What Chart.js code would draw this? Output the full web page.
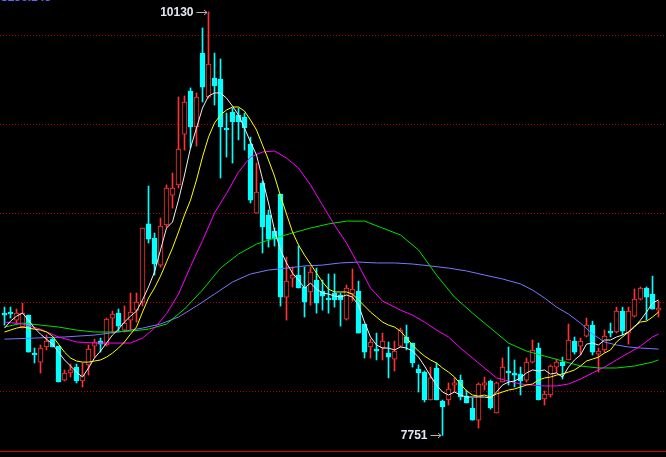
<!DOCTYPE html>
<html>
<head>
<meta charset="utf-8">
<script src="https://cdn.jsdelivr.net/npm/chart.js@4.4.1/dist/chart.umd.min.js"></script>
<style>
html, body { margin: 0; padding: 0; background: #000; overflow: hidden; }
#wrap { width: 666px; height: 457px; }
</style>
</head>
<body>
<div id="wrap"><canvas id="kline" width="666" height="457"></canvas></div>
<script>
// daily candles (index 0 = first full candle on the left)
var opens = [
  8438, 8444, 8399, 8360, 8427, 8214, 8163, 8248, 8292, 8253,
  8062, 8102, 8135, 8057, 8147, 8253, 8281, 8259, 8410, 8438,
  8343, 8399, 8455, 8500, 8939, 8860, 8708, 8933, 9101, 9158,
  9444, 9686, 9484, 9899, 9652, 9759, 9753, 9478, 9568, 9551,
  9540, 9388, 9000, 9169, 8989, 8899, 9107, 8528, 8635, 8652,
  8585, 8557, 8624, 8562, 8523, 8551, 8540, 8404, 8545, 8562,
  8377, 8248, 8236, 8242, 8214, 8180, 8253, 8304, 8270, 8124,
  8107, 7950, 8130, 7944, 7950, 8034, 8062, 7972, 7905, 7837,
  8034, 8057, 7877, 8051, 8113, 8102, 8096, 8062, 8163, 8242,
  7956, 7978, 8135, 8163, 8175, 8281, 8253, 8309, 8371, 8208,
  8231, 8337, 8332, 8449, 8326, 8421, 8517, 8579, 8545, 8455
];
var closes = [
  8427, 8433, 8438, 8438, 8219, 8203, 8242, 8281, 8248, 8051,
  8102, 8119, 8057, 8090, 8236, 8276, 8264, 8404, 8433, 8365,
  8382, 8444, 8500, 8916, 8854, 8714, 8927, 9141, 9141, 9360,
  9624, 9484, 9652, 9708, 9837, 9714, 9484, 9467, 9512, 9512,
  9478, 9073, 9118, 8922, 8854, 8854, 8528, 8618, 8652, 8579,
  8500, 8669, 8494, 8534, 8512, 8512, 8512, 8579, 8573, 8326,
  8219, 8276, 8225, 8281, 8191, 8225, 8343, 8270, 8158, 8102,
  7950, 8074, 7950, 7911, 8012, 8046, 7967, 7933, 7837, 8040,
  8046, 7905, 8046, 8135, 8102, 8090, 8057, 8163, 8231, 7950,
  7984, 8141, 8163, 8141, 8287, 8219, 8281, 8371, 8219, 8225,
  8309, 8326, 8449, 8337, 8449, 8517, 8579, 8528, 8461, 8461
];
var highs = [
  8472, 8472, 8461, 8494, 8427, 8242, 8259, 8315, 8298, 8253,
  8119, 8152, 8152, 8158, 8259, 8292, 8298, 8410, 8449, 8461,
  8478, 8551, 8551, 8916, 9152, 8888, 8972, 9158, 9225, 9652,
  9658, 9703, 9675, 10040, 10130, 9899, 9866, 9562, 9590, 9590,
  9562, 9427, 9281, 9180, 9017, 8916, 9107, 8753, 8697, 8815,
  8697, 8697, 8691, 8624, 8658, 8658, 8551, 8596, 8686, 8618,
  8377, 8292, 8326, 8326, 8276, 8281, 8354, 8371, 8270, 8147,
  8113, 8135, 8158, 7950, 8046, 8074, 8090, 8006, 7961, 8046,
  8079, 8062, 8051, 8186, 8248, 8175, 8135, 8186, 8287, 8270,
  8001, 8147, 8180, 8191, 8377, 8304, 8298, 8410, 8393, 8242,
  8343, 8382, 8472, 8472, 8472, 8573, 8585, 8585, 8646, 8506
];
var lows = [
  8371, 8410, 8382, 8354, 8219, 8158, 8102, 8231, 8248, 8051,
  8057, 8079, 8046, 8023, 8090, 8191, 8219, 8253, 8326, 8337,
  8332, 8343, 8388, 8478, 8832, 8652, 8697, 8922, 9028, 9141,
  9354, 9366, 9377, 9624, 9646, 9607, 9197, 9315, 9281, 9411,
  9354, 9057, 9000, 8776, 8809, 8815, 8478, 8399, 8585, 8579,
  8416, 8483, 8438, 8455, 8438, 8472, 8365, 8399, 8506, 8326,
  8186, 8186, 8175, 8175, 8074, 8113, 8248, 8231, 8135, 7995,
  7939, 7950, 7950, 7751, 7922, 7995, 7950, 7933, 7837, 7792,
  8006, 7899, 7877, 8051, 8034, 8023, 7978, 8051, 8158, 7950,
  7922, 7967, 8102, 8068, 8175, 8208, 8203, 8304, 8203, 8107,
  8219, 8304, 8326, 8315, 8264, 8416, 8512, 8399, 8461, 8416
];

// moving average lines as drawn (white, yellow: every candle)
var ma5 = [
  8354, 8393, 8421, 8438, 8399, 8354, 8320, 8292, 8264, 8219,
  8175, 8141, 8107, 8079, 8130, 8186, 8225, 8270, 8315, 8348,
  8388, 8421, 8449, 8512, 8585, 8669, 8793, 8916, 8950, 9073,
  9214, 9366, 9478, 9590, 9658, 9675, 9675, 9646, 9601, 9551,
  9478, 9399, 9326, 9191, 9057, 8905, 8793, 8720, 8663, 8624,
  8579, 8607, 8573, 8551, 8545, 8534, 8528, 8540, 8528, 8483,
  8388, 8304, 8259, 8242, 8242, 8231, 8248, 8242, 8225, 8191,
  8141, 8085, 8034, 7995, 7978, 7995, 7978, 7967, 7967, 7967,
  7967, 7961, 7995, 8034, 8051, 8057, 8074, 8102, 8119, 8113,
  8119, 8096, 8102, 8079, 8135, 8175, 8203, 8264, 8270, 8259,
  8287, 8287, 8304, 8315, 8332, 8360, 8399, 8444, 8494, 8512
];
var ma10 = [
  8332, 8343, 8354, 8360, 8354, 8348, 8343, 8332, 8309, 8264,
  8219, 8186, 8169, 8163, 8163, 8169, 8175, 8191, 8214, 8242,
  8276, 8320, 8360, 8444, 8523, 8579, 8646, 8725, 8804, 8894,
  8989, 9073, 9186, 9315, 9427, 9506, 9551, 9579, 9596, 9596,
  9573, 9523, 9467, 9382, 9298, 9208, 9096, 8995, 8894, 8821,
  8764, 8714, 8663, 8613, 8573, 8557, 8557, 8557, 8545, 8512,
  8478, 8444, 8416, 8388, 8371, 8360, 8337, 8298, 8259, 8225,
  8197, 8175, 8158, 8130, 8107, 8079, 8040, 8001, 7978, 7972,
  7978, 7967, 7984, 7995, 8006, 8012, 8023, 8034, 8040, 8062,
  8074, 8079, 8090, 8096, 8107, 8119, 8141, 8169, 8180, 8191,
  8214, 8231, 8276, 8304, 8332, 8365, 8388, 8393, 8416, 8444
];
// slower lines, read at fewer candles
var ma20At = [0, 3, 6, 9, 12, 15, 18, 21, 23, 25, 27, 29, 31, 33, 35, 37, 39, 41, 43, 45,
  47, 49, 51, 53, 55, 57, 59, 61, 63, 64, 66, 68, 70, 72, 74, 76, 78, 80, 82, 84,
  86, 88, 90, 92, 94, 96, 98, 100, 102, 104, 106, 108, 109];
var ma20 = [8388, 8377, 8348, 8304, 8276, 8270, 8270, 8270, 8298, 8354, 8435, 8545, 8700, 8845, 9000, 9110, 9230, 9315, 9343, 9349,
  9309, 9253, 9158, 9045, 8933, 8832, 8708, 8579, 8506, 8489, 8455, 8427, 8388, 8343, 8304, 8242, 8186, 8130, 8074, 8057,
  8040, 8034, 8029, 8029, 8040, 8068, 8102, 8135, 8175, 8214, 8253, 8304, 8320];
var ma40At = [0, 3, 6, 9, 12, 15, 18, 21, 24, 27, 30, 33, 36, 39, 42, 45, 48, 51, 54, 57,
  60, 63, 66, 69, 72, 75, 78, 81, 84, 87, 90, 93, 96, 99, 102, 105, 108, 109];
var ma40 = [8360, 8382, 8371, 8360, 8343, 8332, 8332, 8337, 8348, 8377, 8461, 8568, 8691, 8770, 8826, 8860, 8888, 8916, 8939, 8955,
  8955, 8916, 8877, 8793, 8652, 8528, 8438, 8354, 8270, 8225, 8197, 8169, 8141, 8130, 8130, 8141, 8163, 8175];
var ma60At = [0, 5, 10, 15, 20, 23, 26, 29, 32, 35, 38, 41, 44, 47, 50, 53, 56, 59, 62, 65,
  68, 71, 74, 77, 80, 83, 86, 88, 90, 92, 94, 96, 98, 100, 102, 104, 106, 109];
var ma60 = [8292, 8298, 8304, 8315, 8337, 8354, 8377, 8416, 8478, 8545, 8613, 8658, 8680, 8691, 8703, 8708, 8720, 8725, 8720, 8720,
  8714, 8703, 8691, 8675, 8652, 8630, 8602, 8568, 8523, 8472, 8433, 8382, 8321, 8276, 8259, 8248, 8242, 8236];

var gridLevels = [8000, 8500, 9000, 9500, 10000];
var yMin = 7658, yMax = 10197;
var xMin = -0.75, xMax = 110.25;
var topCaption = '8236.143'; // only its lower edge shows above the frame

var upColor = '#ff3333';
var downColor = '#00ffff';

function pairs(at, vals) {
  return at.map(function(i, k) { return { x: i, y: vals[k] }; });
}
function series(vals) {
  return vals.map(function(v, i) { return { x: i, y: v }; });
}

var wickData = [], bodyData = [], fill = [], edge = [];
for (var i = 0; i < opens.length; i++) {
  var up = closes[i] >= opens[i];
  wickData.push({ x: i, y: [lows[i], highs[i]] });
  bodyData.push({ x: i, y: [opens[i], closes[i]] });
  fill.push(up ? '#000000' : downColor);
  edge.push(up ? upColor : downColor);
}

function maLine(data, color) {
  return {
    type: 'line', data: data, borderColor: color, borderWidth: 1,
    pointRadius: 0, tension: 0, order: 0
  };
}

var extremes = {
  id: 'extremes',
  afterDatasetsDraw: function(chart) {
    var ctx = chart.ctx, xs = chart.scales.x, ys = chart.scales.y, area = chart.chartArea;
    var hi = 0, lo = 0;
    for (var k = 1; k < highs.length; k++) {
      if (highs[k] > highs[hi]) hi = k;
      if (lows[k] < lows[lo]) lo = k;
    }
    ctx.save();
    // bottom frame line
    ctx.strokeStyle = '#d80000';
    ctx.lineWidth = 1;
    ctx.beginPath();
    ctx.moveTo(0, Math.round(area.bottom) - 0.5);
    ctx.lineTo(666, Math.round(area.bottom) - 0.5);
    ctx.stroke();

    // caption cut off by the top edge
    ctx.fillStyle = '#6464ff';
    ctx.font = 'bold 12px "Liberation Sans", Arial, sans-serif';
    ctx.textAlign = 'left';
    ctx.textBaseline = 'alphabetic';
    ctx.fillText(topCaption, 1, 1);

    function mark(idx, value, py) {
      var px = xs.getPixelForValue(idx);
      var y = Math.round(py) + 0.5;
      ctx.strokeStyle = '#b4b4b4';
      ctx.lineWidth = 1;
      ctx.beginPath();
      ctx.moveTo(px - 12, y);
      ctx.lineTo(px - 1.5, y);
      ctx.moveTo(px - 4.5, y - 2.5);
      ctx.lineTo(px - 1.5, y);
      ctx.lineTo(px - 4.5, y + 2.5);
      ctx.stroke();
      ctx.fillStyle = '#e2e8f2';
      ctx.font = 'bold 12px "Liberation Sans", Arial, sans-serif';
      ctx.textAlign = 'right';
      ctx.textBaseline = 'middle';
      ctx.fillText(String(value), px - 15, y + 0.5);
    }
    mark(hi, highs[hi], ys.getPixelForValue(highs[hi]));
    mark(lo, lows[lo], ys.getPixelForValue(lows[lo]));
    ctx.restore();
  }
};

new Chart(document.getElementById('kline'), {
  type: 'bar',
  data: {
    datasets: [
      maLine(series(ma5), '#f0f0f0'),
      maLine(series(ma10), '#ffff00'),
      maLine(pairs(ma20At, ma20), '#ff00ff'),
      maLine(pairs(ma40At, ma40), '#00e000'),
      maLine(pairs(ma60At, ma60), '#7878ff'),
      {
        type: 'bar', data: bodyData, grouped: false, order: 1,
        barThickness: 5, minBarLength: 2, borderSkipped: false,
        backgroundColor: fill, borderColor: edge, borderWidth: 1
      },
      {
        type: 'bar', data: wickData, grouped: false, order: 2,
        barThickness: 1, borderWidth: 0, backgroundColor: edge
      }
    ]
  },
  options: {
    responsive: false,
    animation: false,
    devicePixelRatio: 1,
    events: [],
    layout: { padding: { top: 0, bottom: 5, left: 0, right: 0 } },
    plugins: { legend: { display: false }, tooltip: { enabled: false } },
    scales: {
      x: { type: 'linear', min: xMin, max: xMax, offset: false, display: false },
      y: {
        min: yMin, max: yMax,
        afterBuildTicks: function(scale) {
          scale.ticks = gridLevels.map(function(v) { return { value: v }; });
        },
        afterFit: function(scale) { scale.width = 0; },
        ticks: { display: false },
        grid: { color: '#b00000', lineWidth: 1, drawTicks: false },
        border: { display: false, dash: [1, 2] }
      }
    }
  },
  plugins: [extremes]
});
</script>
</body>
</html>
